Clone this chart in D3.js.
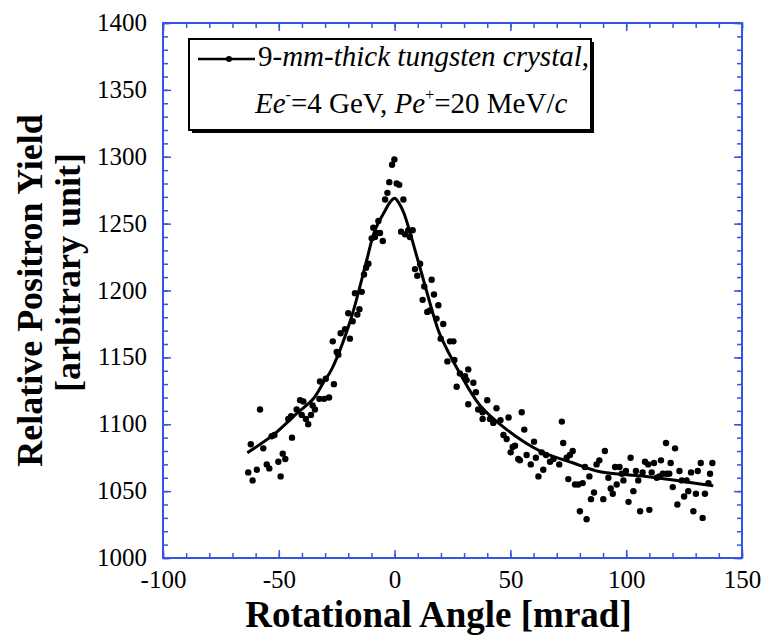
<!DOCTYPE html>
<html><head><meta charset="utf-8">
<script src="https://cdn.jsdelivr.net/npm/d3@7/dist/d3.min.js"></script>
<style>body{margin:0;background:#fff}svg{display:block}</style>
</head><body>
<svg id="c" width="766" height="635"></svg>
<script>
// ---- data ----
const angles = [-58.1,-62.1,-56.7,-53.1,-51.9,-44.3,-45.9,-44.7,-40.8,-39.4,-42.3,-40.1,-38.3,-37.3,-36.1,-34.4,-35.4,-32.5,-30.4,-28.3,-32.2,-29.7,-26.2,-63.2,-61.3,-59.5,-55.2,-54.1,-50.2,-48.3,-47.2,-49.2,
-0.1,-1.1,-2.3,0.9,2.0,-3.1,-4.1,3.8,-7.0,-9.2,-6.3,-7.7,-9.9,-8.5,-5.1,2.8,4.5,6.6,7.8,5.9,-11.3,-12.3,-13.2,-14.2,-17.1,-15.2,-16.1,-20.0,-18.1,-21.4,-23.3,-19.3,-26.7,-25.0,-24.3,8.8,9.8,11.0,16.0,12.8,17.0,12.1,18.9,14.1,15.3,18.1,21.0,19.9,23.9,25.4,22.8,25.8,28.2,31.8,
30.4,31.1,26.8,34.0,35.1,31.8,40.0,36.1,38.0,44.0,38.0,41.2,42.6,45.7,49.2,54.9,56.0,47.0,48.4,52.0,51.0,50.1,53.4,54.1,57.0,60.2,61.0,58.8,63.5,65.4,67.1,68.6,64.2,62.1,71.1,72.2,72.8,74.3,75.7,76.9,75.0,77.9,79.3,81.2,82.2,84.1,87.2,88.4,
80.0,82.9,86.1,84.8,90.8,90.1,92.3,93.3,94.2,95.2,97.1,95.9,98.1,99.9,98.8,101.0,101.9,103.1,104.2,105.2,106.0,107.1,108.1,109.5,110.0,111.0,112.0,113.2,114.3,115.0,115.8,117.5,118.6,117.2,119.2,120.1,121.1,122.1,123.0,124.0,126.1,125.0,126.8,128.0,129.0,130.1,130.9,132.2,133.0,134.0,135.5,136.2,137.2];
const yields = [1111,1085,1082,1091,1092,1090,1104,1106,1118,1117,1111,1107,1104,1100,1107,1111,1114,1119,1119,1120,1132,1134,1130,1064,1058,1066,1070,1067,1072,1078,1074,1061,
1298,1294,1281,1280,1279,1273,1268,1268,1252,1247,1243,1243,1239,1240,1237,1244,1242,1240,1245,1245,1220,1217,1212,1199,1198,1186,1182,1183,1177,1171,1168,1164,1162,1154,1152,1216,1211,1220,1208,1203,1197,1193,1189,1184,1185,1179,1175,1164,1162,1162,1147,1148,1138,1141,
1136,1133,1128,1131,1124,1115,1118,1111,1109,1112,1104,1104,1101,1103,1105,1109,1096,1092,1089,1084,1083,1079,1074,1073,1077,1087,1075,1070,1079,1077,1072,1074,1066,1061,1070,1102,1086,1075,1077,1080,1059,1055,1055,1056,1068,1061,1070,1073,
1035,1029,1049,1044,1080,1044,1060,1052,1048,1068,1068,1055,1063,1065,1058,1042,1075,1050,1065,1058,1035,1064,1072,1070,1036,1064,1071,1060,1061,1073,1063,1063,1063,1086,1071,1053,1082,1040,1065,1058,1058,1046,1050,1064,1035,1048,1065,1071,1030,1048,1056,1063,1071];
const fitAngles = [-63.6,-52.4,-42.3,-35.1,-30.8,-27.2,-19,-12,-8.5,-4,-2,0,2,4,10,17.4,19.6,28.2,36.9,48.4,62.8,77.2,88.7,108.8,137.6];
const fitYields = [1078.7,1092,1108,1119,1131,1141,1178,1223,1245,1260,1266,1269,1265,1258,1223,1178,1167,1138,1114,1096,1080,1071,1064.5,1061,1054];
const xTicks = [-100,-50,0,50,100,150];
const yTicks = [1000,1050,1100,1150,1200,1250,1300,1350,1400];
const xTitle = "Rotational Angle [mrad]";
const yTitle1 = "Relative Positron Yield";
const yTitle2 = "[arbitrary unit]";

// ---- chart ----
const svg = d3.select("#c");
const L=163,R=742,T=23,B=558;
const x = d3.scaleLinear().domain([-100,150]).range([L,R]);
const y = d3.scaleLinear().domain([1000,1400]).range([B,T]);
const blue = "#3553e6";
const serif = "'Liberation Serif','Times New Roman',serif";
const fmt = d => String(d);

const xMinor = d3.range(-100,151,10), yMinor = d3.range(1000,1401,10);
function styleAxis(g){ g.select(".domain").remove(); g.selectAll("line").attr("stroke",blue).attr("stroke-width",1.5); }
// minor ticks
svg.append("g").attr("transform",`translate(0,${B})`).call(d3.axisBottom(x).tickValues(xMinor).tickSize(-5).tickFormat("")).call(styleAxis);
svg.append("g").attr("transform",`translate(0,${T})`).call(d3.axisTop(x).tickValues(xMinor).tickSize(-5).tickFormat("")).call(styleAxis);
svg.append("g").attr("transform",`translate(${L},0)`).call(d3.axisLeft(y).tickValues(yMinor).tickSize(-5).tickFormat("")).call(styleAxis);
svg.append("g").attr("transform",`translate(${R},0)`).call(d3.axisRight(y).tickValues(yMinor).tickSize(-5).tickFormat("")).call(styleAxis);
// major ticks with labels
const gx = svg.append("g").attr("transform",`translate(0,${B})`).call(d3.axisBottom(x).tickValues(xTicks).tickSize(-8).tickPadding(12).tickFormat(fmt)).call(styleAxis);
gx.attr("font-family",serif).attr("font-size",25);
gx.selectAll("text").attr("font-family",serif).attr("font-size",25).attr("fill","#000");
const gy = svg.append("g").attr("transform",`translate(${L},0)`).call(d3.axisLeft(y).tickValues(yTicks).tickSize(-8).tickPadding(16).tickFormat(fmt)).call(styleAxis);
gy.attr("font-family",serif).attr("font-size",25);
gy.selectAll("text").attr("font-family",serif).attr("font-size",25).attr("fill","#000").attr("dy","0.3em");
svg.append("g").attr("transform",`translate(0,${T})`).call(d3.axisTop(x).tickValues(xTicks).tickSize(-8).tickFormat("")).call(styleAxis);
svg.append("g").attr("transform",`translate(${R},0)`).call(d3.axisRight(y).tickValues(yTicks).tickSize(-8).tickFormat("")).call(styleAxis);
// frame
svg.append("rect").attr("x",L).attr("y",T).attr("width",R-L).attr("height",B-T).attr("fill","none").attr("stroke",blue).attr("stroke-width",2);

// fit curve
svg.append("path").datum(fitAngles.map((a,i)=>[a,fitYields[i]]))
  .attr("d",d3.line().x(d=>x(d[0])).y(d=>y(d[1])).curve(d3.curveCatmullRom))
  .attr("fill","none").attr("stroke","#000").attr("stroke-width",3);
// points
svg.append("g").selectAll("circle").data(angles.map((a,i)=>[a,yields[i]])).join("circle")
  .attr("cx",d=>x(d[0])).attr("cy",d=>y(d[1])).attr("r",3.2).attr("fill","#000");

// axis titles
svg.append("text").attr("x",(L+R)/2-14).attr("y",627).attr("text-anchor","middle")
  .attr("font-family",serif).attr("font-weight","bold").attr("font-size",37).text(xTitle);
svg.append("text").attr("transform",`translate(42,${(T+B)/2}) rotate(-90)`).attr("text-anchor","middle")
  .attr("font-family",serif).attr("font-weight","bold").attr("font-size",36).text(yTitle1);
svg.append("text").attr("transform",`translate(80,${(T+B)/2-18}) rotate(-90)`).attr("text-anchor","middle")
  .attr("font-family",serif).attr("font-weight","bold").attr("font-size",36).text(yTitle2);

// legend
const lg = svg.append("g");
lg.append("rect").attr("x",192).attr("y",42).attr("width",402).attr("height",91).attr("fill","#000");
lg.append("rect").attr("x",189).attr("y",39).attr("width",402).attr("height",91).attr("fill","#fff").attr("stroke","#000").attr("stroke-width",2);
lg.append("line").attr("x1",198).attr("x2",255).attr("y1",59).attr("y2",59).attr("stroke","#000").attr("stroke-width",2.5);
lg.append("circle").attr("cx",229).attr("cy",59).attr("r",3).attr("fill","#000");
const t1 = lg.append("text").attr("x",258).attr("y",66).attr("font-family",serif).attr("font-size",29);
t1.append("tspan").text("9-");
t1.append("tspan").attr("font-style","italic").text("mm-thick tungsten crystal");
t1.append("tspan").text(",");
const t2 = lg.append("text").attr("x",255).attr("y",113).attr("font-family",serif).attr("font-size",29);
t2.append("tspan").attr("font-style","italic").text("Ee");
t2.append("tspan").attr("font-size",16).attr("dy",-13).text("-");
t2.append("tspan").attr("dy",13).text("=4 GeV, ");
t2.append("tspan").attr("font-style","italic").text("Pe");
t2.append("tspan").attr("font-size",16).attr("dy",-13).text("+");
t2.append("tspan").attr("dy",13).text("=20 MeV/");
t2.append("tspan").attr("font-style","italic").text("c");
</script>
</body></html>
